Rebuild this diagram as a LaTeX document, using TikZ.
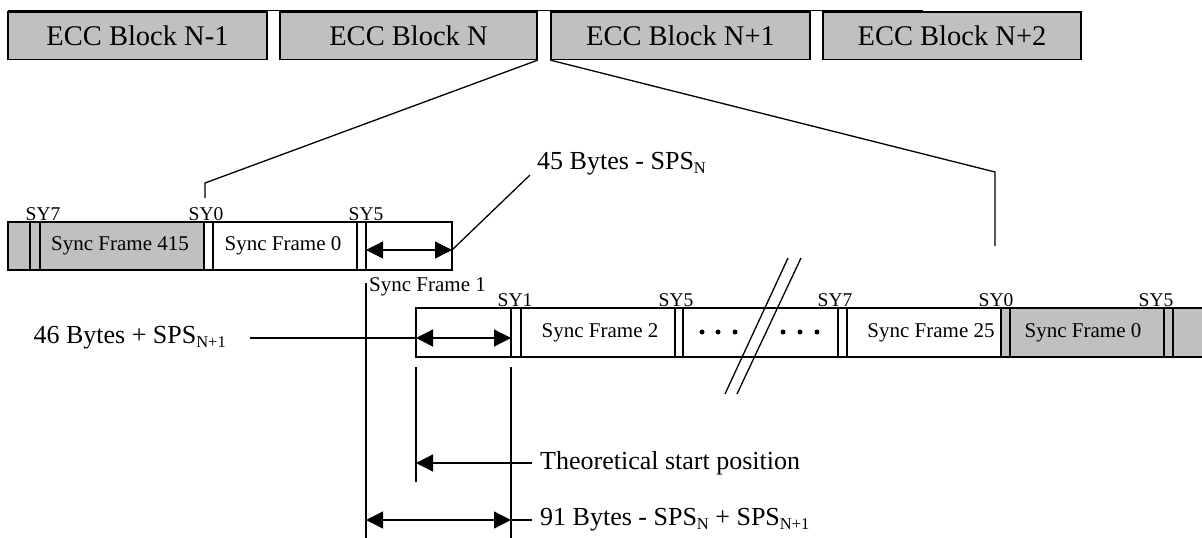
\documentclass[tikz,border=0pt]{standalone}
\usepackage{fontspec}
\setmainfont{Liberation Serif}
\usetikzlibrary{arrows.meta}
\definecolor{boxgray}{RGB}{192,192,192}
\newcommand\lsub[1]{\raisebox{-0.3ex}{\fontsize{16.5}{16.5}\selectfont #1}}
\begin{document}
\begin{tikzpicture}[x=1pt,y=-1pt,
  ln/.style={line width=1.3pt},
  eccbox/.style={draw, line width=1.3pt, fill=boxgray, minimum height=47.5pt, inner sep=0pt, font=\fontsize{28.5}{30}\selectfont},
  sftext/.style={inner sep=0pt, font=\fontsize{21}{24}\selectfont},
  sylab/.style={anchor=base, inner sep=0pt, font=\fontsize{19.5}{20}\selectfont},
  lbl/.style={anchor=west, inner sep=0pt, font=\fontsize{26}{28}\selectfont},
  dbl/.style={ln, {Triangle[length=17pt,width=17pt]}-{Triangle[length=17pt,width=17pt]}},
  sgl/.style={ln, -{Triangle[length=17pt,width=17pt]}},
  dot/.style={circle, fill, inner sep=0pt, minimum size=5pt}
]
\useasboundingbox (0,0) rectangle (1202,538);

% ---- top row of ECC blocks
\draw[line width=0.8pt] (8,10) -- (923,10);
\node[eccbox, minimum width=259pt] (e1) at (137.5,35.75) {ECC Block N-1};
\node[eccbox, minimum width=257pt] (e2) at (408.5,35.75) {ECC Block N};
\node[eccbox, minimum width=259pt] (e3) at (680.5,35.75) {ECC Block N+1};
\node[eccbox, minimum width=258pt] (e4) at (952,35.75) {ECC Block N+2};

% ---- zoom connectors
\coordinate (zl1) at (205,183);
\coordinate (zl2) at (205,198);
\coordinate (zr1) at (995,172);
\coordinate (zr2) at (995,246);
\draw[ln] (e2.south east) -- (zl1) -- (zl2);
\draw[ln] (e3.south west) -- (zr1) -- (zr2);

% ---- row 1 of sync frames
\fill[boxgray] (8,222) rectangle (204,270);
\draw[ln] (8,222) rectangle (452,270);
\foreach \x in {30,40,204,213,357,366} \draw[ln] (\x,222) -- (\x,270);
\node[sftext] (sf415) at (120,246) {Sync Frame 415};
\node[sftext] (sf0a) at (283,246) {Sync Frame 0};
\node[sylab] (sy7a) at (43,220) {SY7};
\node[sylab] (sy0a) at (206,220) {SY0};
\node[sylab] (sy5a) at (366,220) {SY5};

\coordinate (a1l) at (366,250);
\coordinate (a1r) at (452,250);
\draw[dbl] (a1l) -- (a1r);
\node[lbl] (l45) at (537,164) {45 Bytes - SPS\lsub{N}};
\coordinate (l45c) at (530,175);
\draw[ln] (a1r) -- (l45c);

% ---- row 2 of sync frames
\fill[boxgray] (1001,308) rectangle (1202,357);
\draw[ln] (1202,308) -- (416,308) -- (416,357) -- (1202,357);
\foreach \x in {511,521,675,683,838,847,1001,1010,1164,1173} \draw[ln] (\x,308) -- (\x,357);
\node[sftext] (sf2) at (600,332.5) {Sync Frame 2};
\node[sftext] (sf25) at (931,332.5) {Sync Frame 25};
\node[sftext] (sf0b) at (1083,332.5) {Sync Frame 0};
\node[sylab] (sy1b) at (515,306) {SY1};
\node[sylab] (sy5b) at (676,306) {SY5};
\node[sylab] (sy7b) at (835,306) {SY7};
\node[sylab] (sy0b) at (996,306) {SY0};
\node[sylab] (sy5c) at (1156,306) {SY5};
\foreach \x [count=\i] in {702,718,735,783,800,817} \node[dot] (d\i) at (\x,332) {};

% break marks
\draw[ln] (788,258) -- (725,394);
\draw[ln] (801,258) -- (737,394);

% row 2 arrow and label
\coordinate (a2l) at (416,338);
\coordinate (a2r) at (511,338);
\draw[dbl] (a2l) -- (a2r);
\node[lbl, anchor=east] (l46) at (226,338) {46 Bytes + SPS\lsub{N+1}};
\coordinate (l46e) at (250,338);
\draw[ln] (l46e) -- (a2l);

% ---- vertical reference lines
\node[sftext, anchor=west] (sf1) at (369,287) {Sync Frame 1};
\coordinate (v1t) at (366,283);
\coordinate (v1b) at (366,538);
\coordinate (v2t) at (416,367);
\coordinate (v2b) at (416,482);
\coordinate (v3t) at (511,367);
\coordinate (v3b) at (511,538);
\draw[ln] (v1t) -- (v1b);
\draw[ln] (v2t) -- (v2b);
\draw[ln] (v3t) -- (v3b);

% theoretical start
\node[lbl] (lth) at (540,463) {Theoretical start position};
\coordinate (thl) at (416,463);
\coordinate (thr) at (532,463);
\draw[sgl] (thr) -- (thl);

% 91 bytes
\node[lbl] (l91) at (540,520) {91 Bytes - SPS\lsub{N} + SPS\lsub{N+1}};
\coordinate (b91l) at (366,520);
\coordinate (b91r) at (511,520);
\coordinate (b91e) at (532,520);
\draw[dbl] (b91l) -- (b91r);
\draw[ln] (b91r) -- (b91e);
\end{tikzpicture}
\end{document}
